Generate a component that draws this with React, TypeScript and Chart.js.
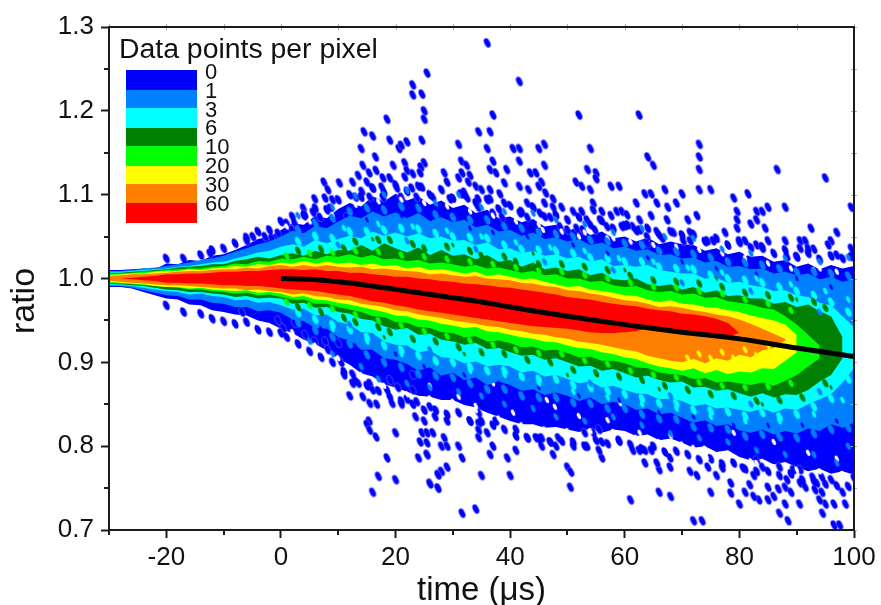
import { useEffect, useRef } from "react";
import { Chart, registerables } from "chart.js";

Chart.register(...registerables);

const FONT = '"Liberation Sans", Arial, sans-serif';

const times = [
  -30, -28, -26, -24, -22, -20, -18, -16, -14, -12, -10,
  -8, -6, -4, -2, 0, 2, 4, 6, 8, 10,
  12, 14, 16, 18, 20, 22, 24, 26, 28, 30,
  32, 34, 36, 38, 40, 42, 44, 46, 48, 50,
  52, 54, 56, 58, 60, 62, 64, 66, 68, 70,
  72, 74, 76, 78, 80, 82, 84, 86, 88, 90,
  92, 94, 96, 98, 100,
];

const blueUpper = [
  1.010, 1.010, 1.011, 1.012, 1.011, 1.018, 1.017, 1.022, 1.021, 1.027, 1.029,
  1.034, 1.040, 1.047, 1.050, 1.058, 1.066, 1.064, 1.075, 1.072, 1.083,
  1.090, 1.086, 1.098, 1.092, 1.101, 1.093, 1.098, 1.088, 1.093, 1.084,
  1.088, 1.078, 1.082, 1.072, 1.074, 1.067, 1.071, 1.062, 1.064, 1.057,
  1.061, 1.052, 1.056, 1.048, 1.050, 1.044, 1.049, 1.041, 1.044, 1.041,
  1.040, 1.033, 1.036, 1.029, 1.032, 1.026, 1.027, 1.020, 1.022, 1.014,
  1.018, 1.011, 1.016, 1.012, 1.015,
];
const blueLower = [
  0.990, 0.990, 0.988, 0.984, 0.980, 0.976, 0.975, 0.969, 0.968, 0.962, 0.960,
  0.957, 0.956, 0.950, 0.947, 0.940, 0.935, 0.927, 0.922, 0.914, 0.905,
  0.897, 0.887, 0.883, 0.874, 0.870, 0.865, 0.860, 0.859, 0.855, 0.855,
  0.849, 0.846, 0.840, 0.835, 0.830, 0.826, 0.826, 0.822, 0.823, 0.820,
  0.817, 0.821, 0.816, 0.820, 0.818, 0.812, 0.814, 0.807, 0.809, 0.804,
  0.798, 0.800, 0.793, 0.795, 0.787, 0.783, 0.785, 0.778, 0.781, 0.775,
  0.770, 0.773, 0.767, 0.770, 0.766,
];
const skyUpper = [
  1.009, 1.009, 1.010, 1.012, 1.013, 1.015, 1.017, 1.019, 1.022, 1.024, 1.027,
  1.032, 1.036, 1.041, 1.044, 1.050, 1.057, 1.054, 1.063, 1.060, 1.068,
  1.075, 1.072, 1.080, 1.074, 1.079, 1.072, 1.078, 1.069, 1.073, 1.067,
  1.070, 1.061, 1.064, 1.056, 1.058, 1.051, 1.055, 1.047, 1.049, 1.044,
  1.047, 1.040, 1.043, 1.036, 1.038, 1.033, 1.035, 1.028, 1.029, 1.024,
  1.025, 1.019, 1.021, 1.014, 1.015, 1.011, 1.012, 1.006, 1.008, 1.004,
  1.006, 0.999, 1.002, 0.996, 0.999,
];
const skyLower = [
  0.991, 0.991, 0.989, 0.986, 0.983, 0.980, 0.979, 0.975, 0.975, 0.971, 0.970,
  0.966, 0.966, 0.961, 0.962, 0.959, 0.951, 0.949, 0.941, 0.940, 0.930,
  0.926, 0.915, 0.915, 0.905, 0.903, 0.898, 0.890, 0.894, 0.884, 0.888,
  0.879, 0.882, 0.873, 0.877, 0.873, 0.866, 0.868, 0.861, 0.864, 0.860,
  0.854, 0.858, 0.850, 0.853, 0.850, 0.843, 0.845, 0.838, 0.840, 0.834,
  0.828, 0.831, 0.824, 0.826, 0.819, 0.816, 0.820, 0.814, 0.818, 0.815,
  0.821, 0.818, 0.826, 0.822, 0.828,
];
const cyanUpper = [
  1.008, 1.008, 1.009, 1.010, 1.011, 1.012, 1.014, 1.015, 1.017, 1.019, 1.020,
  1.024, 1.027, 1.031, 1.033, 1.038, 1.041, 1.038, 1.046, 1.042, 1.047,
  1.051, 1.048, 1.056, 1.051, 1.055, 1.050, 1.054, 1.048, 1.050, 1.045,
  1.046, 1.040, 1.043, 1.035, 1.036, 1.030, 1.033, 1.027, 1.029, 1.024,
  1.026, 1.020, 1.023, 1.015, 1.016, 1.014, 1.016, 1.010, 1.008, 1.006,
  1.006, 1.000, 1.001, 0.995, 0.996, 0.992, 0.990, 0.985, 0.986, 0.980,
  0.978, 0.971, 0.968, 0.955, 0.942,
];
const cyanLower = [
  0.992, 0.992, 0.991, 0.989, 0.987, 0.985, 0.984, 0.981, 0.982, 0.979, 0.978,
  0.974, 0.975, 0.971, 0.972, 0.968, 0.963, 0.964, 0.956, 0.957, 0.948,
  0.945, 0.936, 0.935, 0.925, 0.921, 0.920, 0.912, 0.914, 0.906, 0.905,
  0.899, 0.901, 0.895, 0.897, 0.895, 0.888, 0.890, 0.883, 0.885, 0.880,
  0.875, 0.877, 0.870, 0.872, 0.867, 0.863, 0.862, 0.856, 0.857, 0.854,
  0.848, 0.850, 0.845, 0.846, 0.843, 0.841, 0.845, 0.840, 0.845, 0.843,
  0.850, 0.856, 0.862, 0.876, 0.893,
];
const greenUpper = [
  1.007, 1.007, 1.008, 1.009, 1.010, 1.011, 1.013, 1.014, 1.015, 1.017, 1.017,
  1.021, 1.023, 1.026, 1.024, 1.028, 1.030, 1.027, 1.033, 1.029, 1.034,
  1.033, 1.040, 1.033, 1.042, 1.036, 1.031, 1.037, 1.028, 1.034, 1.027,
  1.029, 1.023, 1.028, 1.020, 1.022, 1.014, 1.019, 1.011, 1.013, 1.009,
  1.011, 1.004, 1.007, 0.999, 0.998, 1.000, 0.993, 0.991, 0.993, 0.987,
  0.990, 0.983, 0.986, 0.979, 0.980, 0.976, 0.976, 0.970, 0.972, 0.966,
  0.969, 0.961, 0.955, 0.930,
];
const greenLower = [
  0.993, 0.993, 0.992, 0.991, 0.989, 0.987, 0.986, 0.984, 0.984, 0.982, 0.981,
  0.978, 0.979, 0.976, 0.977, 0.976, 0.970, 0.971, 0.965, 0.966, 0.960,
  0.958, 0.952, 0.950, 0.943, 0.939, 0.941, 0.933, 0.934, 0.927, 0.925,
  0.921, 0.923, 0.916, 0.917, 0.912, 0.908, 0.909, 0.903, 0.905, 0.900,
  0.895, 0.896, 0.890, 0.892, 0.887, 0.882, 0.884, 0.879, 0.876, 0.877,
  0.870, 0.871, 0.866, 0.868, 0.863, 0.859, 0.863, 0.858, 0.862, 0.861,
  0.867, 0.877, 0.885, 0.905,
];
const limeUpper = [
  1.006, 1.006, 1.007, 1.008, 1.009, 1.010, 1.011, 1.012, 1.012, 1.014, 1.015,
  1.018, 1.017, 1.021, 1.020, 1.024, 1.023, 1.026, 1.023, 1.027, 1.026,
  1.029, 1.025, 1.028, 1.023, 1.024, 1.021, 1.022, 1.018, 1.019, 1.017,
  1.014, 1.016, 1.012, 1.013, 1.010, 1.007, 1.009, 1.004, 1.005, 1.000,
  1.000, 0.996, 0.997, 0.992, 0.990, 0.991, 0.986, 0.984, 0.985, 0.981,
  0.982, 0.977, 0.978, 0.973, 0.971, 0.969, 0.965, 0.963, 0.955, 0.945,
  0.933, 0.920,
];
const limeLower = [
  0.994, 0.994, 0.993, 0.992, 0.991, 0.990, 0.989, 0.987, 0.987, 0.985, 0.984,
  0.982, 0.983, 0.980, 0.981, 0.978, 0.975, 0.975, 0.970, 0.970, 0.966,
  0.963, 0.960, 0.955, 0.954, 0.948, 0.947, 0.942, 0.941, 0.936, 0.935,
  0.930, 0.931, 0.925, 0.926, 0.923, 0.918, 0.919, 0.914, 0.915, 0.911,
  0.906, 0.907, 0.902, 0.902, 0.899, 0.894, 0.893, 0.888, 0.886, 0.885,
  0.880, 0.881, 0.876, 0.877, 0.875, 0.873, 0.876, 0.872, 0.878, 0.885,
  0.895, 0.905,
];
const yellowUpper = [
  1.004, 1.005, 1.006, 1.006, 1.008, 1.009, 1.009, 1.011, 1.010, 1.012, 1.013,
  1.015, 1.014, 1.017, 1.016, 1.019, 1.018, 1.021, 1.018, 1.020, 1.018,
  1.019, 1.016, 1.018, 1.015, 1.016, 1.012, 1.014, 1.010, 1.011, 1.009,
  1.006, 1.008, 1.003, 1.005, 1.002, 0.999, 1.000, 0.996, 0.993, 0.990,
  0.991, 0.987, 0.985, 0.983, 0.980, 0.979, 0.975, 0.972, 0.974, 0.970,
  0.969, 0.966, 0.965, 0.962, 0.960, 0.956, 0.953, 0.950, 0.945, 0.933,
];
const yellowLower = [
  0.996, 0.995, 0.994, 0.993, 0.991, 0.990, 0.990, 0.988, 0.989, 0.987, 0.986,
  0.985, 0.986, 0.983, 0.984, 0.982, 0.978, 0.979, 0.975, 0.974, 0.971,
  0.969, 0.966, 0.963, 0.960, 0.956, 0.955, 0.951, 0.950, 0.946, 0.944,
  0.941, 0.942, 0.937, 0.936, 0.933, 0.930, 0.928, 0.925, 0.924, 0.920,
  0.917, 0.916, 0.912, 0.910, 0.906, 0.904, 0.899, 0.895, 0.893, 0.890,
  0.893, 0.887, 0.891, 0.886, 0.889, 0.888, 0.893, 0.892, 0.902, 0.912,
];
const orangeUpper = [
  1.003, 1.004, 1.005, 1.005, 1.006, 1.007, 1.008, 1.009, 1.009, 1.010, 1.011,
  1.011, 1.013, 1.012, 1.015, 1.016, 1.014, 1.016, 1.014, 1.016, 1.014,
  1.013, 1.014, 1.011, 1.012, 1.010, 1.009, 1.008, 1.005, 1.006, 1.004,
  1.002, 1.003, 1.000, 0.999, 0.998, 0.995, 0.994, 0.991, 0.990, 0.986,
  0.985, 0.982, 0.980, 0.977, 0.974, 0.973, 0.970, 0.966, 0.967, 0.965,
  0.962, 0.960, 0.957, 0.955, 0.951, 0.946, 0.940, 0.934, 0.928,
];
const orangeLower = [
  0.997, 0.996, 0.995, 0.994, 0.993, 0.992, 0.992, 0.991, 0.990, 0.989, 0.988,
  0.988, 0.986, 0.987, 0.985, 0.984, 0.981, 0.982, 0.979, 0.978, 0.975,
  0.974, 0.970, 0.968, 0.966, 0.962, 0.961, 0.957, 0.955, 0.953, 0.950,
  0.948, 0.946, 0.943, 0.942, 0.939, 0.937, 0.934, 0.933, 0.930, 0.928,
  0.925, 0.923, 0.921, 0.918, 0.915, 0.913, 0.908, 0.905, 0.902, 0.900,
  0.904, 0.899, 0.905, 0.902, 0.909, 0.906, 0.914, 0.917, 0.926,
];
const redUpper = [
  null, 1.000, 1.001, 1.002, 1.003, 1.005, 1.005, 1.006, 1.006, 1.007, 1.008,
  1.008, 1.009, 1.009, 1.010, 1.011, 1.011, 1.010, 1.011, 1.009, 1.009,
  1.007, 1.007, 1.005, 1.004, 1.002, 1.002, 1.000, 0.999, 0.997, 0.996,
  0.994, 0.993, 0.992, 0.990, 0.989, 0.987, 0.985, 0.983, 0.981, 0.978,
  0.976, 0.975, 0.972, 0.970, 0.968, 0.967, 0.964, 0.962, 0.961, 0.958,
  0.957, 0.955, 0.952, 0.947, 0.935,
];
const redLower = [
  null, 1.000, 0.999, 0.998, 0.997, 0.995, 0.995, 0.994, 0.994, 0.993, 0.992,
  0.992, 0.991, 0.991, 0.990, 0.988, 0.987, 0.986, 0.985, 0.983, 0.981,
  0.979, 0.976, 0.973, 0.971, 0.968, 0.966, 0.963, 0.961, 0.959, 0.957,
  0.955, 0.953, 0.951, 0.949, 0.947, 0.945, 0.943, 0.942, 0.941, 0.940,
  0.938, 0.936, 0.935, 0.935, 0.936, 0.937, 0.941, 0.940, 0.938, 0.936,
  0.935, 0.933, 0.932, 0.931, 0.935,
];

const fitTimes = [0, 5, 10, 15, 20, 25, 30, 35, 40, 50, 60, 70, 80, 90, 100];
const fitRatios = [1.0, 0.999, 0.996, 0.992, 0.987, 0.982, 0.977, 0.972, 0.966, 0.955, 0.945, 0.936, 0.928, 0.917, 0.907];

const isolatedBlobs: [number, number][] = [
  [25.5,1.245],[23,1.231],[23,1.219],[24.6,1.22],[25,1.2],[25,1.19],[18.5,1.19],[14.5,1.175],[16,1.17],[19,1.165],
  [20.6,1.155],[21,1.159],[22,1.163],[24.6,1.165],[14,1.155],[16.5,1.145],[14.3,1.135],[19.6,1.135],[21.6,1.138],[25,1.138],
  [24.4,1.133],[15.4,1.126],[13.5,1.123],[16.6,1.129],[22,1.129],[24.3,1.126],[7.5,1.115],[10.2,1.114],[12.5,1.115],[15,1.115],
  [17.8,1.12],[19,1.12],[21.6,1.121],[23,1.125],[8.2,1.106],[14.1,1.104],[13,1.097],[16,1.108],[17.6,1.109],[20.2,1.108],
  [22.8,1.108],[24.6,1.109],[7.7,1.096],[9,1.094],[5.9,1.095],[15.5,1.097],[17.8,1.097],[21,1.097],[23.7,1.097],[26.5,1.097],
  [3.9,1.084],[5.6,1.079],[8.6,1.084],[11.5,1.073],[4.2,1.076],[6.8,1.073],[1,1.066],[2.4,1.066],[1.9,1.058],[-0.5,1.054],
  [-4.9,1.05],[-6,1.045],[-12.4,1.03],[-1.6,1.048],[-2.8,1.05],
  [36,1.281],[41.6,1.235],[37,1.195],[52,1.195],[62.5,1.195],[34.5,1.175],[36.5,1.175],[31,1.16],[36,1.155],[40.5,1.155],
  [41.6,1.155],[45,1.155],[46,1.16],[54,1.155],[73,1.16],[73,1.145],[73,1.13],[64,1.145],[65,1.135],[31.5,1.14],
  [32.4,1.135],[37,1.14],[41.6,1.14],[46,1.135],[39.4,1.13],[36.5,1.13],[37.5,1.126],[43.5,1.126],[44.5,1.126],[53.5,1.13],
  [55,1.126],[55,1.119],[86.6,1.13],[95,1.12],[28.5,1.126],[29,1.115],[31,1.12],[31.6,1.126],[33,1.123],[32.7,1.115],
  [34,1.11],[35,1.106],[36.5,1.106],[39,1.114],[41.6,1.11],[43.2,1.106],[45.5,1.115],[45,1.11],[46.2,1.102],[51.5,1.115],
  [52.5,1.11],[54,1.106],[57.6,1.11],[59,1.11],[67,1.106],[70,1.101],[73,1.106],[75,1.106],[79,1.096],[81.5,1.101],
  [63.5,1.101],[64.6,1.101],[62,1.09],[65.6,1.09],[69,1.09],[67.5,1.085],[32,1.103],[31.4,1.101],[32.5,1.096],[29.5,1.095],
  [34.4,1.095],[36.5,1.095],[38.2,1.101],[39,1.09],[43,1.09],[44,1.085],[46,1.09],[47.5,1.095],[47.5,1.085],[49,1.085],
  [51,1.08],[52.5,1.08],[54.5,1.09],[54.5,1.082],[56,1.08],[57.6,1.075],[58.6,1.08],[59.5,1.08],[60.4,1.076],[64.6,1.075],
  [62.6,1.07],[67.4,1.07],[71,1.07],[72.6,1.075],[79.6,1.08],[83,1.08],[84,1.08],[85,1.085],[88,1.085],[99.5,1.085],
  [79.6,1.07],[83,1.07],[82,1.065],[79.6,1.06],[84.5,1.06],[92.5,1.06],[97,1.055],[77.5,1.055],[68.5,1.055],[71.4,1.055],
  [85,1.045],[88,1.045],[90.6,1.045],[91.5,1.045],[96,1.045],[99.5,1.036],[93,1.035],[90.6,1.036],[92,1.036],[95.5,1.04],
  [90,1.026],[88.3,1.026],[97,1.028],[99.5,1.026],[75.4,1.045],[74.4,1.045],[80,1.045],[81,1.045],[83,1.04],[84,1.036],
  [70.2,1.045],[71.4,1.045],[65.6,1.056],[66.5,1.048],[63.9,1.05],[63.9,1.042],[61.4,1.062],[62.6,1.058],[60.5,1.064],[59.5,1.062],
  [56.9,1.062],[55.7,1.07],[54.8,1.058],[53.4,1.07],[51.6,1.06],[52.7,1.058],[45.2,1.078],[47,1.073],[48.7,1.062],[50,1.058],
  [41.7,1.078],[43,1.073],[37,1.078],[38.6,1.073],[34.4,1.085],
  [-0.5,0.95],[0.4,0.941],[0,0.935],[-6.8,0.96],[2.4,0.947],[4.2,0.933],[5.9,0.925],[7.7,0.925],[8.2,0.915],[10,0.923],
  [10.5,0.9],[11,0.885],[12.5,0.886],[12.5,0.875],[13.5,0.875],[12,0.86],[15.4,0.83],[15,0.826],[15.5,0.819],[16.6,0.811],
  [20,0.816],[18.5,0.786],[17,0.764],[20,0.76],[16,0.745],[14.3,0.859],[15.5,0.851],[16.7,0.85],[15.5,0.875],[16,0.867],
  [18.5,0.867],[19.4,0.851],[21,0.85],[19,0.879],[20.4,0.87],[22,0.856],[23.7,0.853],[23.5,0.835],[25,0.83],[24.6,0.816],
  [25.5,0.816],[26.5,0.816],[24.3,0.805],[25.5,0.804],[24,0.786],[25.5,0.79],[27.4,0.766],[26,0.756],[27.4,0.75],[26.9,0.835],
  [26,0.847],[23,0.867],[23,0.885],[29,0.83],[33,0.83],[34.5,0.84],[34.5,0.827],[34.5,0.819],[37.5,0.83],[36,0.816],
  [34.5,0.81],[28.5,0.81],[28,0.8],[29,0.8],[31,0.8],[25.5,0.79],[31.6,0.786],[36.5,0.79],[37,0.8],[39.5,0.786],
  [41,0.795],[41,0.82],[43,0.81],[44.5,0.81],[45.5,0.81],[45.5,0.8],[47.5,0.79],[47,0.805],[48,0.8],[48.4,0.81],
  [51,0.8],[50,0.775],[50.6,0.769],[50.5,0.751],[40,0.765],[35,0.765],[29,0.775],[28,0.77],[27.4,0.766],[26,0.755],
  [27.4,0.75],[34,0.725],[31.6,0.72],
  [61,0.736],[66,0.745],[68,0.74],[72,0.711],[73.5,0.711],[75,0.745],[80,0.731],[87,0.72],[88.5,0.711],[96.5,0.706],
  [97.5,0.706],[94.5,0.72],[90.5,0.731],[88,0.731],[96.5,0.731],[98.5,0.731],[95,0.731],[94,0.736],[98,0.745],[85,0.736],
  [83.4,0.736],[82.5,0.74],[78.5,0.756],[78.5,0.744],[81,0.745],[85,0.751],[86,0.74],[86.8,0.749],[88,0.751],[89,0.745],
  [81.8,0.754],[82.5,0.765],[76,0.765],[77,0.774],[72.6,0.765],[71.4,0.77],[67.9,0.775],[67.9,0.786],[66,0.772],[65.6,0.78],
  [63.5,0.78],[56,0.786],[55.5,0.795],[56,0.805],[53.4,0.8],[53,0.816],[54.5,0.816],[55.5,0.82],[59,0.807],[61.4,0.795],
  [62.5,0.795],[63.5,0.795],[64.6,0.795],[74.5,0.775],[80.6,0.774],[84,0.775],[83,0.783],[87,0.775],[89.4,0.772],[90.6,0.772],
  [92.8,0.763],[93.5,0.756],[94.4,0.763],[96,0.76],[100,0.762],[90.6,0.756],[88.3,0.76],[91.5,0.751],[93.2,0.748],[94.4,0.745],
];

const blueEdgeBlobs: [number, number][] = [
  [-20,1.024],[-17,1.024],[-14,1.028],[-12,1.034],[-10,1.036],[-8,1.042],[-6,1.049],[-4,1.056],[-2,1.058],[0,1.068],
  [2,1.074],[4,1.075],[6,1.084],[8,1.082],[10,1.094],[12,1.1],[14,1.097],[16,1.108],[18,1.103],[20,1.112],
  [22,1.104],[24,1.11],[26,1.1],[28,1.106],[30,1.096],[32,1.1],[34,1.09],[36,1.094],[38,1.083],[40,1.087],
  [42,1.08],[44,1.085],[46,1.074],[48,1.076],[50,1.07],[52,1.073],[54,1.064],[56,1.069],[58,1.06],[60,1.063],
  [62,1.057],[64,1.06],[66,1.052],[68,1.056],[70,1.052],[72,1.053],[74,1.044],[76,1.048],[78,1.04],[80,1.043],
  [82,1.037],[84,1.038],[86,1.03],[88,1.034],[90,1.026],[92,1.03],[94,1.023],[96,1.027],[98,1.024],[100,1.028],
  [-20,0.968],[-17,0.96],[-14,0.958],[-12,0.952],[-10,0.949],[-8,0.946],[-6,0.948],[-4,0.939],[-2,0.936],[1,0.93],
  [3,0.922],[5,0.913],[7,0.906],[9,0.9],[11,0.889],[13,0.878],[15,0.872],[17,0.866],[19,0.859],[21,0.854],
  [23,0.85],[25,0.843],[27,0.843],[29,0.838],[31,0.84],[33,0.83],[35,0.83],[37,0.825],[39,0.82],[41,0.812],
  [43,0.81],[45,0.809],[47,0.805],[49,0.806],[51,0.805],[53,0.8],[55,0.807],[57,0.803],[59,0.806],[61,0.802],
  [63,0.797],[65,0.8],[67,0.793],[69,0.794],[71,0.79],[73,0.784],[75,0.785],[77,0.779],[79,0.78],[81,0.773],
  [83,0.77],[85,0.77],[87,0.765],[89,0.767],[91,0.76],[93,0.758],[95,0.755],[97,0.753],[99,0.752],
];

const whiteHoles: [number, number][] = [
  [37,0.875],[31,0.859],[46.4,0.855],[47.8,0.847],[40.5,0.84],[59.2,0.851],[57,0.831],[62.6,0.816],[79,0.816],[86,0.805],
  [80,0.827],[92,0.792],[74.3,0.787],[72,0.798],[83,0.78],[58,1.048],[45.7,1.058],[74.3,1.008],[90.3,0.992],[65.6,1.018],
  [62.6,1.026],[43,1.032],[26,0.872],[34,0.848],[52,0.836],[68,0.812],[97,0.785],[94,1.012],[81,1.03],[52,1.05],
  [1,1.062],[5,1.068],[9,1.076],[13,1.088],[17,1.092],[21,1.094],[25,1.09],[29,1.086],[33,1.08],[37,1.075],
  [41,1.068],[45,1.064],[49,1.056],[53,1.055],[57,1.048],[61,1.044],[65,1.04],[69,1.038],[73,1.034],[77,1.03],
  [81,1.024],[85,1.018],[89,1.012],[93,1.01],[97,1.008],
  [2,0.936],[6,0.92],[10,0.905],[14,0.885],[18,0.872],[22,0.862],[26,0.857],[30,0.853],[34,0.843],[38,0.833],
  [42,0.825],[46,0.82],[50,0.818],[54,0.818],[58,0.817],[62,0.81],[66,0.805],[70,0.802],[74,0.797],[78,0.79],
  [82,0.782],[86,0.775],[90,0.772],[94,0.77],[98,0.767],
];

const skyEdgeSpikes: [number, number][] = [
  [3,1.058],[6,1.066],[9,1.072],[12,1.08],[15,1.084],[18,1.082],[21,1.086],[24,1.084],[27,1.076],[30,1.073],[33,1.07],
  [36,1.07],[39,1.062],[42,1.06],[45,1.055],[48,1.053],[51,1.05],[54,1.046],[57,1.044],[60,1.042],[63,1.04],[66,1.033],
  [69,1.032],[72,1.029],[75,1.025],[78,1.02],[81,1.019],[84,1.016],[87,1.012],[90,1.008],[93,1.008],[96,1.006],[99,1.003],
  [3,0.947],[6,0.938],[9,0.93],[12,0.922],[15,0.909],[18,0.9],[21,0.894],[24,0.886],[27,0.884],[30,0.882],[33,0.875],
  [36,0.868],[39,0.868],[42,0.86],[45,0.858],[48,0.858],[51,0.852],[54,0.851],[57,0.845],[60,0.845],[63,0.838],[66,0.833],
  [69,0.832],[72,0.823],[75,0.822],[78,0.82],[81,0.812],[84,0.814],[87,0.811],[90,0.81],[93,0.815],[96,0.82],[99,0.822],
];
const cyanEdgeSpikes: [number, number][] = [
  [3,1.044],[6,1.05],[9,1.048],[12,1.056],[15,1.056],[18,1.058],[21,1.06],[24,1.059],[27,1.054],[30,1.05],[33,1.049],
  [36,1.048],[39,1.04],[42,1.035],[45,1.034],[48,1.033],[51,1.03],[54,1.025],[57,1.024],[60,1.02],[63,1.02],[66,1.014],
  [69,1.012],[72,1.011],[75,1.004],[78,1.0],[81,0.998],[84,0.995],[87,0.99],[90,0.985],[93,0.98],[96,0.972],[99,0.96],
  [3,0.959],[6,0.951],[9,0.945],[12,0.939],[15,0.93],[18,0.92],[21,0.915],[24,0.908],[27,0.902],[30,0.9],[33,0.895],
  [36,0.89],[39,0.89],[42,0.883],[45,0.88],[48,0.88],[51,0.873],[54,0.87],[57,0.866],[60,0.862],[63,0.857],[66,0.851],
  [69,0.851],[72,0.843],[75,0.842],[78,0.841],[81,0.836],[84,0.84],[87,0.835],[90,0.838],[93,0.847],[96,0.857],[99,0.88],
];
const greenEdgeSpikes: [number, number][] = [
  [3,1.033],[7,1.035],[11,1.036],[13,1.044],[17,1.046],[19,1.046],[23,1.041],[25,1.036],[29,1.038],[33,1.033],[35,1.027],
  [39,1.026],[41,1.02],[45,1.017],[49,1.017],[53,1.014],[57,1.01],[61,1.003],[65,0.998],[69,0.996],[73,0.994],[77,0.99],
  [81,0.983],[85,0.98],[89,0.977],[93,0.972],[95,0.965],
  [3,0.966],[7,0.96],[11,0.953],[13,0.948],[17,0.942],[19,0.936],[23,0.928],[27,0.925],[31,0.918],[35,0.912],[39,0.91],
  [43,0.903],[47,0.9],[51,0.891],[55,0.887],[59,0.883],[63,0.879],[67,0.872],[71,0.867],[75,0.862],[79,0.86],[83,0.854],
  [87,0.855],[91,0.858],[95,0.875],
];
const limeEdgeSpikes: [number, number][] = [
  [1,1.027],[5,1.03],[9,1.031],[13,1.033],[17,1.032],[21,1.028],[25,1.026],[29,1.023],[33,1.02],[37,1.017],[41,1.013],
  [45,1.009],[49,1.008],[53,1.004],[57,1.0],[61,0.995],[65,0.99],[69,0.989],[73,0.985],[77,0.982],[81,0.975],[85,0.97],[89,0.962],
  [1,0.972],[5,0.968],[9,0.964],[13,0.957],[17,0.95],[21,0.944],[25,0.937],[29,0.931],[33,0.926],[37,0.921],[41,0.915],
  [45,0.911],[49,0.91],[53,0.902],[57,0.898],[61,0.89],[65,0.885],[69,0.882],[73,0.876],[77,0.872],[81,0.87],[85,0.871],[89,0.875],
];
const yellowFlecks: [number, number][] = [
  [71,0.905],[73,0.91],[75,0.905],[77,0.912],[79,0.905],[81,0.915],[83,0.908],[85,0.92],
];

const skySpecks: [number, number][] = [
  [3,1.075],[9,1.085],[13,1.098],[18,1.1],[22,1.105],[27,1.09],[31,1.1],[35,1.085],[39,1.08],[44,1.078],[48,1.07],
  [53,1.065],[58,1.055],[63,1.06],[67,1.05],[72,1.048],[77,1.035],[82,1.03],[88,1.024],[94,1.02],[99,1.025],
  [5,0.925],[9,0.91],[14,0.895],[17,0.88],[22,0.875],[26,0.87],[31,0.865],[35,0.86],[39,0.85],[44,0.845],[48,0.835],
  [53,0.83],[58,0.835],[63,0.825],[68,0.815],[73,0.81],[78,0.805],[83,0.795],[88,0.79],[93,0.79],[97,0.78],[99,0.8],
  [10,1.04],[22,1.045],[34,1.035],[46,1.02],[58,1.01],[70,0.995],[82,0.985],[94,0.96],[12,0.945],[26,0.915],[40,0.89],
  [54,0.875],[68,0.86],[82,0.85],[94,0.865],
];
const blueSpecks: [number, number][] = [
  [8,1.065],[15,1.07],[21,1.075],[26,1.072],[33,1.06],[37,1.055],[43,1.05],[51,1.04],[57,1.03],[64,1.025],[70,1.02],
  [76,1.012],[83,1.005],[90,1.0],[96,0.99],[7,0.94],[13,0.92],[20,0.91],[25,0.895],[32,0.885],[38,0.875],[45,0.87],
  [52,0.86],[59,0.855],[66,0.84],[72,0.835],[79,0.825],[85,0.825],[91,0.825],[97,0.83],
];
const cyanSpecks: [number, number][] = [
  [6,1.052],[11,1.06],[17,1.065],[23,1.062],[29,1.057],[35,1.05],[41,1.043],[47,1.037],[53,1.033],[59,1.024],[65,1.02],
  [71,1.013],[77,1.007],[83,1.0],[89,0.993],[95,0.985],[99,0.975],[9,0.94],[15,0.925],[21,0.91],[27,0.9],[33,0.89],
  [39,0.885],[45,0.875],[51,0.865],[57,0.858],[63,0.85],[69,0.845],[75,0.835],[81,0.83],[87,0.83],[93,0.838],[98,0.855],
];
const greenSpecks: [number, number][] = [
  [16,1.047],[30,1.04],[44,1.03],[60,1.01],[76,1.0],[90,0.975],[18,0.93],[32,0.91],[50,0.885],[66,0.868],[84,0.85],[96,0.87],
];

const levelLabels = ["0", "1", "3", "6", "10", "20", "30", "60"];
const levelColors = ["#0000ff", "#0080ff", "#00ffff", "#008000", "#00ff00", "#ffff00", "#ff8000", "#ff0000"];
const xMajorTicks = [-20, 0, 20, 40, 60, 80, 100];
const xMinorTicks = [-30, -10, 10, 30, 50, 70, 90];
const yMajorTicks = [0.7, 0.8, 0.9, 1.0, 1.1, 1.2, 1.3];
const yMinorTicks = [0.75, 0.85, 0.95, 1.05, 1.15, 1.25];

function makeBlob(color: string, rx: number, ry: number, halo?: string) {
  const c = document.createElement("canvas");
  c.width = 16;
  c.height = 16;
  const g = c.getContext("2d")!;
  g.translate(8, 8);
  g.rotate((-26 * Math.PI) / 180);
  g.beginPath();
  g.ellipse(0, 0, rx, ry, 0, 0, Math.PI * 2);
  g.fillStyle = color;
  g.fill();
  if (halo) {
    g.lineWidth = 1;
    g.strokeStyle = halo;
    g.stroke();
  }
  return c;
}

const toPoints = (list: (number | null)[]) =>
  times.map((t, i) => ({ x: t, y: list[i] ?? null }));
const pairs = (list: [number, number][]) => list.map(([x, y]) => ({ x, y }));

const AXIS = "#1c1c1c";

const decorations = {
  id: "decorations",
  afterDatasetsDraw(chart: any) {
    const { ctx, chartArea: a, scales } = chart;
    ctx.save();
    ctx.strokeStyle = "#b0b0b0";
    ctx.lineWidth = 1;
    ctx.beginPath();
    [...xMajorTicks, ...xMinorTicks].forEach((v) => {
      const p = Math.round(scales.x.getPixelForValue(v));
      ctx.moveTo(p + 0.5, a.top - 3);
      ctx.lineTo(p + 0.5, a.top + 3);
    });
    [...yMajorTicks, ...yMinorTicks].forEach((v) => {
      const p = Math.round(scales.y.getPixelForValue(v));
      ctx.moveTo(a.right - 3, p + 0.5);
      ctx.lineTo(a.right + 3, p + 0.5);
    });
    ctx.stroke();

    ctx.strokeStyle = AXIS;
    ctx.lineWidth = 2;
    ctx.strokeRect(a.left, a.top, a.right - a.left, a.bottom - a.top);
    ctx.beginPath();
    xMinorTicks.forEach((v) => {
      const p = Math.round(scales.x.getPixelForValue(v));
      ctx.moveTo(p, a.bottom);
      ctx.lineTo(p, a.bottom + 5);
    });
    yMinorTicks.forEach((v) => {
      const p = Math.round(scales.y.getPixelForValue(v));
      ctx.moveTo(a.left, p);
      ctx.lineTo(a.left - 5, p);
    });
    ctx.stroke();

    // stacked colour key
    const keyStops = [70, 90, 108, 128, 146, 166, 184, 203, 223];
    levelColors.forEach((col, i) => {
      ctx.fillStyle = col;
      ctx.fillRect(126, keyStops[i], 71, keyStops[i + 1] - keyStops[i]);
    });
    ctx.fillStyle = "#111";
    ctx.textBaseline = "middle";
    ctx.textAlign = "left";
    ctx.font = `22px ${FONT}`;
    levelLabels.forEach((lab, i) => {
      ctx.fillText(lab, 205, 73 + i * 18.8);
    });
    ctx.font = `28.4px ${FONT}`;
    ctx.fillText("Data points per pixel", 119, 50);

    // y-axis title, set low on the axis as in the original figure
    ctx.save();
    ctx.translate(24.5, 301);
    ctx.rotate(-Math.PI / 2);
    ctx.textAlign = "center";
    ctx.font = `34px ${FONT}`;
    ctx.fillText("ratio", 0, 0);
    ctx.restore();
    ctx.restore();
  },
};

export default function App() {
  const ref = useRef<HTMLCanvasElement>(null);

  useEffect(() => {
    const bands = [
      [blueUpper, blueLower],
      [skyUpper, skyLower],
      [cyanUpper, cyanLower],
      [greenUpper, greenLower],
      [limeUpper, limeLower],
      [yellowUpper, yellowLower],
      [orangeUpper, orangeLower],
      [redUpper, redLower],
    ];
    const datasets: any[] = [];
    bands.forEach(([up, low], i) => {
      const order = 100 - i;
      const base = { type: "line", pointRadius: 0, borderWidth: 0, tension: 0, order, spanGaps: false };
      datasets.push({ ...base, label: `${levelLabels[i]} upper`, data: toPoints(up), fill: false });
      datasets.push({
        ...base,
        label: `${levelLabels[i]} lower`,
        data: toPoints(low),
        fill: "-1",
        backgroundColor: levelColors[i],
      });
    });
    const scatter = (label: string, list: [number, number][], style: HTMLCanvasElement, order: number) => ({
      type: "scatter",
      label,
      data: pairs(list),
      pointStyle: style,
      pointRadius: 5,
      order,
    });
    // higher order is painted first, so each layer nests under the next band
    datasets.push(scatter("isolated", isolatedBlobs, makeBlob("#0000ff", 2.8, 4.9, "rgba(120,120,255,0.5)"), 99.8));
    datasets.push(scatter("blue edge", blueEdgeBlobs, makeBlob("#0000ff", 3, 5.2), 99.6));
    datasets.push(scatter("holes", whiteHoles, makeBlob("#ffffff", 1.7, 3.4), 99.4));
    datasets.push(scatter("sky edge", skyEdgeSpikes, makeBlob("#0080ff", 2.6, 5), 98.8));
    datasets.push(scatter("cyan edge", cyanEdgeSpikes, makeBlob("#00ffff", 2.6, 5), 97.8));
    datasets.push(scatter("green edge", greenEdgeSpikes, makeBlob("#008000", 2.4, 4.6), 96.8));
    datasets.push(scatter("lime edge", limeEdgeSpikes, makeBlob("#00ff00", 2.2, 4), 95.8));
    datasets.push(scatter("yellow flecks", yellowFlecks, makeBlob("#ffff00", 1.8, 4), 20));
    datasets.push(scatter("sky specks", skySpecks, makeBlob("#0080ff", 2, 4), 19));
    datasets.push(scatter("blue specks", blueSpecks, makeBlob("#0000ff", 1.4, 3), 18));
    datasets.push(scatter("cyan specks", cyanSpecks, makeBlob("#00ffff", 1.8, 3.6), 17));
    datasets.push(scatter("green specks", greenSpecks, makeBlob("#008000", 1.3, 2.6), 16));
    datasets.push({
      type: "line",
      label: "fit",
      data: fitTimes.map((x, i) => ({ x, y: fitRatios[i] })),
      borderColor: "#000000",
      borderWidth: 5,
      pointRadius: 0,
      tension: 0.3,
      fill: false,
      order: 1,
    });

    const chart = new Chart(ref.current!, {
      data: { datasets },
      plugins: [decorations],
      options: {
        responsive: false,
        animation: false,
        events: [],
        layout: { padding: { top: 27, right: 27, left: 0, bottom: 0 } },
        plugins: { legend: { display: false }, tooltip: { enabled: false } },
        scales: {
          x: {
            type: "linear",
            min: -30,
            max: 100,
            afterBuildTicks: (s: any) => {
              s.ticks = xMajorTicks.map((value) => ({ value }));
            },
            afterFit: (s: any) => {
              s.height = 75;
            },
            grid: { drawOnChartArea: false, tickLength: 8, tickWidth: 2, tickColor: AXIS },
            border: { color: AXIS, width: 2 },
            ticks: {
              autoSkip: false,
              maxRotation: 0,
              padding: 4,
              color: "#111",
              font: { family: FONT, size: 26 },
            },
            title: {
              display: true,
              text: "time (μs)",
              color: "#111",
              font: { family: FONT, size: 33 },
              padding: { top: 0, bottom: -6 },
            },
          },
          y: {
            type: "linear",
            min: 0.7,
            max: 1.3,
            afterBuildTicks: (s: any) => {
              s.ticks = yMajorTicks.map((value) => ({ value }));
            },
            afterFit: (s: any) => {
              s.width = 109;
            },
            grid: { drawOnChartArea: false, tickLength: 8, tickWidth: 2, tickColor: AXIS },
            border: { color: AXIS, width: 2 },
            ticks: {
              autoSkip: false,
              padding: 7,
              color: "#111",
              font: { family: FONT, size: 26 },
              callback: (v: any) => Number(v).toFixed(1),
            },
          },
        },
      },
    } as any);
    return () => chart.destroy();
  }, []);

  return (
    <div style={{ position: "absolute", left: 0, top: 0, width: 881, height: 605 }}>
      <canvas ref={ref} width={881} height={605} style={{ display: "block" }} />
    </div>
  );
}
